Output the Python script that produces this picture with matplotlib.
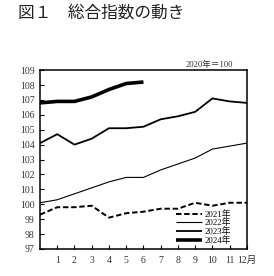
#!/usr/bin/env python3
"""図1 総合指数の動き: monthly index lines, 2021-2024 (2020 = 100)."""

import matplotlib

matplotlib.use("Agg")
import matplotlib.pyplot as plt

# x = 0 is previous December, 1..12 = Jan..Dec
MONTH_TICKS = list(range(1, 13))
MONTH_LABELS = [str(m) for m in range(1, 12)] + ["12月"]

IDX_2021 = [99.3, 99.8, 99.8, 99.9, 99.1, 99.4, 99.5, 99.7, 99.7, 100.1, 99.9, 100.1, 100.1]
IDX_2022 = [100.1, 100.3, 100.7, 101.1, 101.5, 101.8, 101.8, 102.3, 102.7, 103.1, 103.7, 103.9, 104.1]
IDX_2023 = [104.1, 104.7, 104.0, 104.4, 105.1, 105.1, 105.2, 105.7, 105.9, 106.2, 107.1, 106.9, 106.8]
IDX_2024 = [106.8, 106.9, 106.9, 107.2, 107.7, 108.1, 108.2]

SERIES = [
    ("2021年", IDX_2021, dict(lw=1.4, ls=(0, (2.8, 1.4)))),
    ("2022年", IDX_2022, dict(lw=0.8, ls="-")),
    ("2023年", IDX_2023, dict(lw=1.3, ls="-")),
    ("2024年", IDX_2024, dict(lw=2.6, ls="-")),
]

plt.rcParams["font.family"] = ["Liberation Serif", "Noto Sans CJK JP"]


def main() -> None:
    fig = plt.figure(figsize=(2.74, 2.76), dpi=100)
    ax = fig.add_axes([0.146, 0.098, 0.755, 0.648])

    for label, vals, style in SERIES:
        ax.plot(range(len(vals)), vals, color="black", label=label,
                solid_capstyle="butt", dash_capstyle="butt", **style)

    ax.set_xlim(0, 12)
    ax.set_ylim(97, 109)
    ax.set_xticks(MONTH_TICKS)
    ax.set_xticklabels(MONTH_LABELS)
    ax.set_yticks(range(97, 110))
    ax.tick_params(direction="in", length=3, width=0.8, labelsize=7,
                   colors="black", labelcolor="#333333")
    ax.tick_params(axis="x", pad=5)
    ax.tick_params(axis="y", pad=4)
    for sp in ax.spines.values():
        sp.set_linewidth(1.1)

    ax.legend(loc="lower right", bbox_to_anchor=(0.945, 0.0), frameon=False,
              fontsize=6.3, handlelength=3.0, handletextpad=0.3,
              labelspacing=-0.03, borderpad=0.0)

    fig.text(0.065, 0.953, "図１　総合指数の動き", fontsize=12,
             family=["Noto Sans CJK JP"], va="center", color="#222222")
    fig.text(0.85, 0.765, "2020年＝100", fontsize=6.2, ha="right", va="center",
             color="#333333")

    fig.savefig("out.png", dpi=100)
    plt.close(fig)


if __name__ == "__main__":
    main()
